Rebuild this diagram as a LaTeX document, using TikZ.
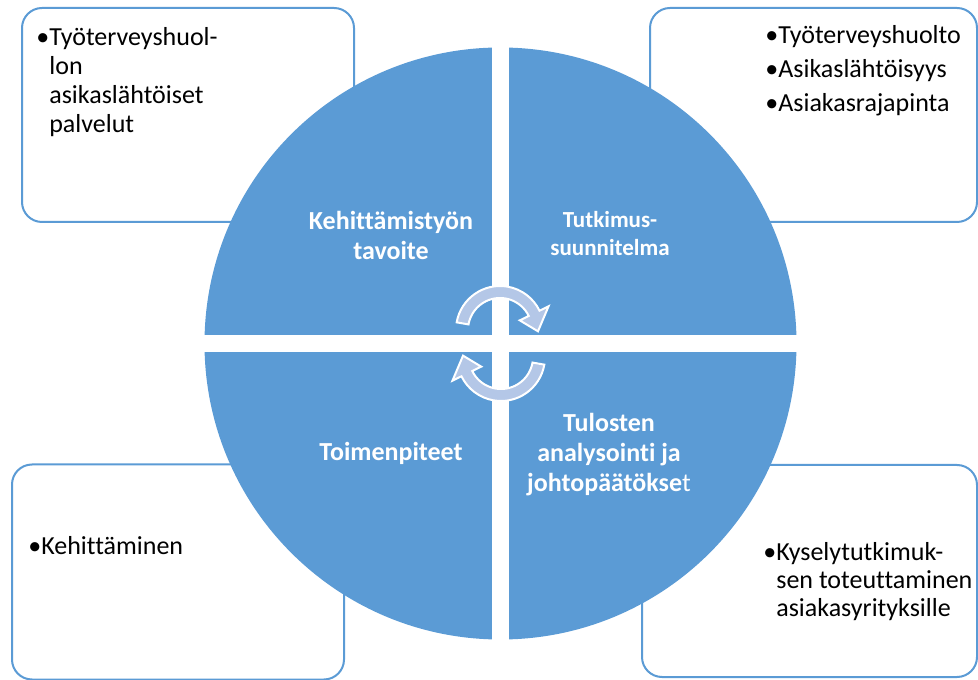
\documentclass[tikz,border=0pt]{standalone}
\usepackage{fontspec}
\setmainfont{Carlito}[Ligatures=NoCommon]
\usepackage{xcolor}
\usetikzlibrary{positioning}
\definecolor{quadblue}{HTML}{5B9BD5}
\definecolor{arrowblue}{HTML}{B4C7E7}
\definecolor{ink}{HTML}{000000}
\newcommand{\hangsp}{\hphantom{\textbullet}}
\tikzset{
  infobox/.style={draw=quadblue,fill=white,line width=1pt,
                  rounded corners=10pt,inner sep=0pt},
  boxtext/.style={anchor=north west,align=left,inner sep=0pt,text=ink,
                  font=\fontsize{13}{14.5}\selectfont},
  quadlabel/.style={align=center,inner sep=0pt,text=white,
                    font=\fontsize{13}{15}\selectfont\bfseries},
  cyclearr/.style={fill=arrowblue,draw=white,line width=1pt}
}

\begin{document}
\begin{tikzpicture}[x=0.5pt,y=0.5pt]
  \useasboundingbox (0,0) rectangle (978,679);

  \node[infobox,minimum width=166pt,minimum height=107pt] (goalbox) at (188,564) {};
  \node[infobox,minimum width=163.5pt,minimum height=107pt] (planbox) at (813.5,564) {};
  \node[infobox,minimum width=166pt,minimum height=107.5pt] (actbox) at (178,107) {};
  \node[infobox,minimum width=167.5pt,minimum height=106pt] (resbox) at (809.5,108) {};

  \fill[quadblue] (500.5,335.5) circle[radius=296];
  \fill[white] (492,30) rectangle (509,642);
  \fill[white] (195,327) rectangle (806,344);

  \begin{scope}[shift={(500,349)}]
    \filldraw[cyclearr] (170:44) arc[start angle=170,end angle=26,radius=44]
      -- (26:54) -- (-2:38) -- (26:22) -- (26:32)
      arc[start angle=26,end angle=170,radius=32] -- cycle;
  \end{scope}
  \begin{scope}[shift={(501,322)},rotate=180]
    \filldraw[cyclearr] (170:44) arc[start angle=170,end angle=26,radius=44]
      -- (26:54) -- (-2:38) -- (26:22) -- (26:32)
      arc[start angle=26,end angle=170,radius=32] -- cycle;
  \end{scope}

  \node[quadlabel] (goal) at (391,444) {Kehittämistyön\\tavoite};
  \node[quadlabel,font=\fontsize{11.5}{14}\selectfont\bfseries] (plan) at (610,445)
    {Tutkimus-\\suunnitelma};
  \node[quadlabel] (actions) at (391,226) {Toimenpiteet};
  \node[quadlabel] (results) at (609,224)
    {Tulosten\\analysointi ja\\johtopäätökse{\mdseries t}};

  \node[boxtext] (goaltext) at (36,652)
    {\textbullet Työterveyshuol-\\\hangsp lon\\\hangsp asikaslähtöiset\\\hangsp palvelut};
  \node[boxtext,font=\fontsize{13}{17}\selectfont] (plantext) at (765,654)
    {\textbullet Työterveyshuolto\\\textbullet Asikaslähtöisyys\\\textbullet Asiakasrajapinta};
  \node[boxtext] (acttext) at (28,143) {\textbullet Kehittäminen};
  \node[boxtext,font=\fontsize{13}{14}\selectfont] (restext) at (763,137)
    {\textbullet Kyselytutkimuk-\\\hangsp sen toteuttaminen\\\hangsp asiakasyrityksille};
\end{tikzpicture}
\end{document}
